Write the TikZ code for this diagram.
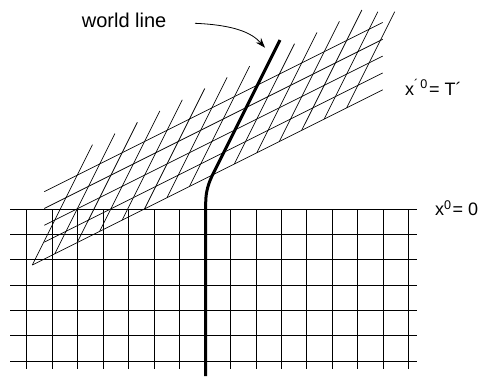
\documentclass[tikz,border=0pt]{standalone}
\usepackage{fontspec}
\setmainfont{Liberation Sans}
\usetikzlibrary{arrows.meta}
\begin{document}
\begin{tikzpicture}[x=1pt,y=-1pt,
  gridline/.style={line width=0.8pt,black},
  tiltline/.style={line width=0.7pt,black},
  worldln/.style={line width=3pt,black},
  lbl/.style={anchor=base west,inner sep=0pt,font=\fontsize{18}{21}\selectfont},
  biglbl/.style={anchor=base west,inner sep=0pt,font=\fontsize{20}{24}\selectfont}]
\useasboundingbox (0,0) rectangle (487,376);
% square grid (rest frame)
\foreach \j in {0,...,6}
  \draw[gridline] (10,{209+25.33*\j}) -- (416.7,{209+25.33*\j});
\foreach \i in {0,...,15}
  \draw[gridline] ({26.7+25.47*\i},209) -- ({26.7+25.47*\i},369);
% tilted grid (moving frame): lines of constant time
\draw[tiltline] (32.3,265) -- (382.7,89.8);
\draw[tiltline] (44.3,242.16) -- (382.7,72.96);
\draw[tiltline] (44.3,225.32) -- (382.7,56.12);
\draw[tiltline] (44.3,208.48) -- (382.7,39.28);
\draw[tiltline] (44.3,191.64) -- (382.7,22.44);
% tilted grid: lines of constant position
\foreach \i in {0,...,12}
  \draw[tiltline] ({32.3+22.45*\i},{265-11.225*\i}) -- ++(60.17,-120.3);
\draw[tiltline] (324.15,119.08) -- (377.85,11.7);
\draw[tiltline] (346.6,107.85) -- (394.7,11.7);
% world line
\draw[worldln] (205.7,376) -- (205.7,203) .. controls (205.7,191) and (209,182) .. (213,174) -- (280,40);
% labels
\node[biglbl] (wl) at (81.7,27.3) {world line};
\node[lbl] (tp) at (405,95) {x\textsuperscript{´\,0}\hspace{1pt}= T´};
\node[lbl] (t0) at (435,215.7) {x\textsuperscript{0}\hspace{1pt}= 0};
% arrow
\coordinate (as) at (195,23.3);
\coordinate (ae) at (265,47.7);
\draw[line width=0.8pt,-{Stealth[length=10pt,width=7pt]}] (as) .. controls (235,25) and (252,33) .. (ae);
\end{tikzpicture}
\end{document}
